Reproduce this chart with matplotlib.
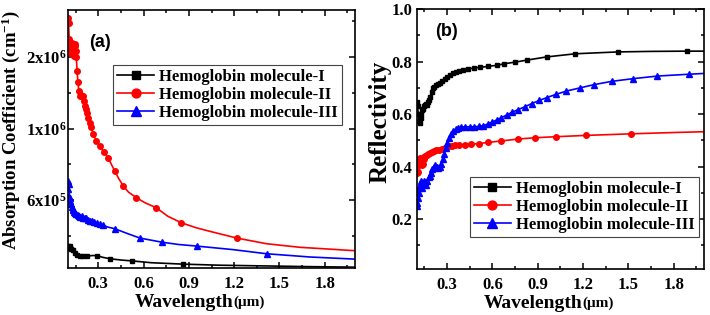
import matplotlib
matplotlib.use('Agg')
import matplotlib.pyplot as plt
import numpy as np
from matplotlib.ticker import MultipleLocator, FormatStrFormatter, FixedLocator

plt.rcParams['font.family'] = 'Liberation Serif'
plt.rcParams['font.weight'] = 'bold'
plt.rcParams['mathtext.fontset'] = 'custom'
plt.rcParams['mathtext.rm'] = 'Liberation Serif:bold'
plt.rcParams['mathtext.it'] = 'Liberation Serif:bold'
plt.rcParams['mathtext.bf'] = 'Liberation Serif:bold'

labels = ['Hemoglobin molecule-I', 'Hemoglobin molecule-II', 'Hemoglobin molecule-III']
colors = ['black', 'red', 'blue']
markers = ['s', 'o', '^']

# ---- (a) absorption coefficient ----
wl_a1 = [0.100, 0.105, 0.110, 0.115, 0.122, 0.133, 0.145, 0.160, 0.180, 0.200, 0.226, 0.260,
         0.292, 0.330, 0.378, 0.450, 0.524, 0.650, 0.860, 1.100, 1.400, 1.700, 2.000]
abs_1 = [3.45e5, 3.35e5, 3.42e5, 3.30e5, 3.25e5, 3.20e5, 3.05e5, 2.95e5, 2.88e5, 2.85e5, 2.86e5, 2.90e5,
         2.90e5, 2.80e5, 2.72e5, 2.65e5, 2.60e5, 2.50e5, 2.42e5, 2.36e5, 2.32e5, 2.28e5, 2.25e5]
mk_a1 = [0.110, 0.226, 0.292, 0.378, 0.524, 0.860]

wl_a2 = [0.100, 0.104, 0.108, 0.111, 0.115, 0.119, 0.123, 0.127, 0.131, 0.135, 0.139, 0.143,
         0.147, 0.151, 0.155, 0.160, 0.166, 0.172, 0.178, 0.184, 0.190, 0.196, 0.203, 0.210,
         0.218, 0.226, 0.235, 0.245, 0.255, 0.266, 0.277, 0.288, 0.300, 0.310, 0.321, 0.335,
         0.350, 0.365, 0.387, 0.409, 0.436, 0.465, 0.500, 0.553, 0.610, 0.685, 0.760, 0.851,
         0.950, 1.050, 1.216, 1.415, 1.636, 1.850, 2.000]
abs_2 = [2.55e6, 2.47e6, 2.25e6, 2.10e6, 2.05e6, 2.18e6, 2.08e6, 2.20e6, 2.05e6, 2.12e6, 2.02e6, 2.15e6,
         2.18e6, 2.08e6, 2.00e6, 1.80e6, 1.65e6, 1.52e6, 1.46e6, 1.47e6, 1.46e6, 1.45e6, 1.38e6, 1.32e6,
         1.27e6, 1.22e6, 1.15e6, 1.08e6, 1.02e6, 9.7e5, 9.5e5, 9.3e5, 9.15e5, 9.05e5, 8.9e5, 8.7e5,
         8.55e5, 8.38e5, 8.0e5, 7.63e5, 7.2e5, 6.8e5, 6.45e5, 6.13e5, 5.85e5, 5.57e5, 5.1e5, 4.73e5,
         4.45e5, 4.23e5, 3.88e5, 3.56e5, 3.36e5, 3.25e5, 3.17e5]
mk_a2 = [0.266, 0.288, 0.310, 0.335, 0.365, 0.409, 0.465, 0.553, 0.685, 0.851, 1.216]

wl_a3 = [0.100, 0.103, 0.106, 0.109, 0.112, 0.116, 0.120, 0.125, 0.130, 0.136, 0.142, 0.149,
         0.156, 0.164, 0.172, 0.180, 0.190, 0.200, 0.211, 0.222, 0.234, 0.247, 0.260, 0.275,
         0.290, 0.310, 0.332, 0.360, 0.409, 0.490, 0.575, 0.719, 0.830, 0.951, 1.194, 1.415,
         1.700, 2.000]
abs_3 = [7.07e5, 6.6e5, 6.9e5, 6.2e5, 5.94e5, 6.1e5, 5.76e5, 5.6e5, 5.5e5, 5.45e5, 5.35e5, 5.28e5,
         5.25e5, 5.15e5, 5.1e5, 5.05e5, 5.1e5, 5.02e5, 5.0e5, 4.98e5, 4.9e5, 4.85e5, 4.82e5, 4.75e5,
         4.72e5, 4.66e5, 4.6e5, 4.5e5, 4.4e5, 4.14e5, 3.88e5, 3.65e5, 3.52e5, 3.43e5, 3.23e5, 3.0e5,
         2.82e5, 2.7e5]
mk_a3 = [0.409, 0.575, 0.719, 0.951, 1.415]

# ---- (b) reflectivity ----
wl_b1 = [0.100, 0.105, 0.110, 0.115, 0.120, 0.125, 0.130, 0.135, 0.140, 0.147, 0.153, 0.160,
         0.167, 0.175, 0.183, 0.190, 0.198, 0.206, 0.215, 0.225, 0.240, 0.255, 0.270, 0.285,
         0.300, 0.320, 0.340, 0.360, 0.380, 0.405, 0.440, 0.480, 0.520, 0.570, 0.630, 0.680,
         0.750, 0.830, 0.960, 1.150, 1.430, 1.650, 1.890, 2.000]
ref_1 = [0.648, 0.630, 0.600, 0.575, 0.565, 0.585, 0.600, 0.615, 0.620, 0.632, 0.635, 0.640,
         0.636, 0.645, 0.655, 0.665, 0.685, 0.700, 0.705, 0.710, 0.715, 0.720, 0.725, 0.735,
         0.740, 0.748, 0.755, 0.760, 0.765, 0.768, 0.772, 0.776, 0.778, 0.782, 0.786, 0.792,
         0.798, 0.806, 0.818, 0.830, 0.837, 0.839, 0.840, 0.840]
mk_b1 = [0.405, 0.440, 0.480, 0.520, 0.570, 0.630, 0.680, 0.750, 0.830, 0.960, 1.150, 1.430, 1.890]

wl_b2 = [0.100, 0.103, 0.107, 0.111, 0.115, 0.120, 0.125, 0.130, 0.135, 0.140, 0.145, 0.150,
         0.157, 0.165, 0.175, 0.187, 0.200, 0.215, 0.230, 0.250, 0.270, 0.290, 0.310, 0.330,
         0.350, 0.380, 0.420, 0.460, 0.510, 0.570, 0.660, 0.770, 0.880, 1.020, 1.220, 1.520,
         1.800, 2.000]
ref_2 = [0.400, 0.375, 0.380, 0.410, 0.425, 0.432, 0.425, 0.410, 0.405, 0.410, 0.430, 0.438,
         0.442, 0.445, 0.450, 0.452, 0.455, 0.460, 0.462, 0.465, 0.468, 0.472, 0.477, 0.480,
         0.482, 0.483, 0.484, 0.485, 0.488, 0.492, 0.498, 0.505, 0.510, 0.514, 0.519, 0.525,
         0.530, 0.533]
mk_b2 = [0.350, 0.380, 0.420, 0.460, 0.510, 0.570, 0.660, 0.770, 0.880, 1.020, 1.220, 1.520]

wl_b3 = [0.100, 0.104, 0.108, 0.112, 0.116, 0.120, 0.125, 0.130, 0.136, 0.142, 0.148, 0.155,
         0.162, 0.170, 0.178, 0.186, 0.195, 0.204, 0.213, 0.222, 0.232, 0.242, 0.252, 0.262,
         0.272, 0.282, 0.292, 0.302, 0.315, 0.328, 0.342, 0.358, 0.375, 0.395, 0.420, 0.450,
         0.480, 0.510, 0.540, 0.570, 0.600, 0.630, 0.660, 0.700, 0.730, 0.770, 0.815, 0.860,
         0.910, 0.960, 1.020, 1.090, 1.180, 1.270, 1.390, 1.530, 1.690, 1.900, 2.000]
ref_3 = [0.260, 0.250, 0.280, 0.300, 0.320, 0.330, 0.345, 0.330, 0.320, 0.335, 0.345, 0.340,
         0.330, 0.345, 0.360, 0.365, 0.375, 0.390, 0.400, 0.405, 0.400, 0.395, 0.398, 0.410,
         0.430, 0.450, 0.470, 0.490, 0.510, 0.525, 0.535, 0.543, 0.548, 0.550, 0.552, 0.552,
         0.552, 0.553, 0.556, 0.562, 0.570, 0.578, 0.587, 0.598, 0.607, 0.617, 0.628, 0.640,
         0.652, 0.663, 0.675, 0.688, 0.700, 0.712, 0.725, 0.735, 0.745, 0.752, 0.755]
mk_b3 = [1.690, 1.900]

# dense short-wavelength parts carry a marker on every point
dense_a = [0.22, 0.255, 0.35]
dense_b = [0.38, 0.33, 1.53]

# the absorption axis of the original has uneven spacing: 6e5 -> 1e6 -> 2e6 equally spaced
anc_val = np.array([-1e7, 1e6, 1e7])
anc_pos = np.array([(-1e7 - 6e5) / 4e5, 1.0, 10.0])


def fwd(v):
    return np.interp(v, anc_val, anc_pos)


def inv(p):
    return np.interp(p, anc_pos, anc_val)


fig = plt.figure(figsize=(7.1, 3.15), dpi=100)
ax1 = fig.add_axes([0.0958, 0.149, 0.4042, 0.819])
ax2 = fig.add_axes([0.587, 0.146, 0.4045, 0.825])

sets_a = [(wl_a1, abs_1, mk_a1), (wl_a2, abs_2, mk_a2), (wl_a3, abs_3, mk_a3)]
sets_b = [(wl_b1, ref_1, mk_b1), (wl_b2, ref_2, mk_b2), (wl_b3, ref_3, mk_b3)]
msz = [3.5, 4, 4.5]

for ax, sets, dense in [(ax1, sets_a, dense_a), (ax2, sets_b, dense_b)]:
    for i, (x, y, mk) in enumerate(sets):
        x = np.asarray(x)
        every = (x <= dense[i]) | np.isin(x, mk)
        ax.plot(x, y, color=colors[i], lw=1.2, marker=markers[i], ms=msz[i],
                markevery=every, label=labels[i])

ax1.set_yscale('function', functions=(fwd, inv))
ax1.set_ylim(2.2e5, 2.656e6)
ax1.yaxis.set_major_locator(FixedLocator([6e5, 1e6, 2e6]))
ax1.yaxis.set_minor_locator(FixedLocator([4e5, 8e5, 1.5e6, 2.5e6]))
ax1.set_yticklabels(['6x10$^{5}$', '1x10$^{6}$', '2x10$^{6}$'])
ax1.set_ylabel('Absorption Coefficient (cm$^{-1}$)', fontsize=13.5, fontweight='bold')
ax1.yaxis.set_label_coords(-0.162, 0.535)

ax2.set_ylim(0.01, 1.0)
ax2.yaxis.set_major_locator(MultipleLocator(0.2))
ax2.yaxis.set_minor_locator(MultipleLocator(0.1))
ax2.yaxis.set_major_formatter(FormatStrFormatter('%.1f'))
ax2.set_ylabel('Reflectivity', fontsize=18, fontweight='bold')
ax2.yaxis.set_label_coords(-0.088, 0.565)

for ax, tag, tpos in [(ax1, '(a)', (0.11, 0.875)), (ax2, '(b)', (0.105, 0.915))]:
    ax.set_xlim(0.1, 2.0)
    ax.xaxis.set_major_locator(MultipleLocator(0.3))
    ax.xaxis.set_minor_locator(MultipleLocator(0.15))
    ax.xaxis.set_major_formatter(FormatStrFormatter('%.1f'))
    ax.tick_params(which='both', direction='in', top=True, right=True, width=1.1, labelsize=12)
    ax.tick_params(which='major', length=4.5)
    ax.tick_params(which='minor', length=2.5)
    ax.tick_params(axis='x', pad=6)
    for s in ax.spines.values():
        s.set_linewidth(1.2)
    ax.set_xlabel('Wavelength', fontsize=14, fontweight='bold')
    ax.xaxis.set_label_coords(0.405, -0.1)
    ax.annotate('(\u03bcm)', xy=(1.0, 0.12), xycoords=ax.xaxis.label, ha='left', va='bottom',
                fontsize=11, fontweight='bold')
    ax.text(tpos[0], tpos[1], tag, transform=ax.transAxes, fontsize=13, fontweight='bold',
            family='Liberation Sans', ha='center', va='center')

ax1.tick_params(axis='y', pad=1)
ax2.tick_params(axis='y', pad=3)

leg_kw = dict(loc='upper left', borderaxespad=0, fancybox=False, framealpha=1,
              edgecolor='#444444', fontsize=12, labelspacing=0.12, handlelength=2.2,
              handletextpad=0.3, borderpad=0.25, markerscale=1.6)
l1 = ax1.legend(bbox_to_anchor=(0.157, 0.787), **leg_kw)
l2 = ax2.legend(bbox_to_anchor=(0.185, 0.354), **leg_kw)
for l in (l1, l2):
    l.get_frame().set_linewidth(0.8)

fig.savefig('out.png', dpi=100)
plt.close()
